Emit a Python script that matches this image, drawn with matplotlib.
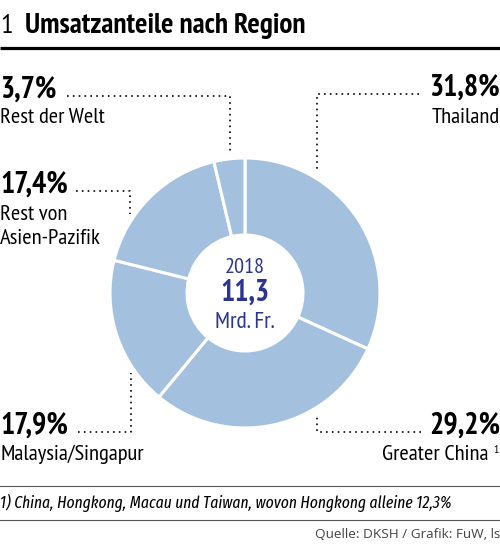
import matplotlib
matplotlib.use("Agg")
import matplotlib.pyplot as plt

# Data
regions = ["Thailand", "Greater China", "Malaysia/Singapur",
           "Rest von\nAsien-Pazifik", "Rest der Welt"]
shares = [31.8, 29.2, 17.9, 17.4, 3.7]
share_labels = ["31,8%", "29,2%", "17,9%", "17,4%", "3,7%"]
total_year = "2018"
total_value = "11,3"
total_unit = "Mrd. Fr."
footnote = "1) China, Hongkong, Macau und Taiwan, wovon Hongkong alleine 12,3%"
source = "Quelle: DKSH / Grafik: FuW, ls"

W, H = 500, 545
fig = plt.figure(figsize=(W / 100, H / 100), dpi=100)
ax = fig.add_axes([0, 0, 1, 1])

fam = ["PT Sans Narrow", "DejaVu Sans"]

def Y(py):
    return H - py

blue = "#a3c1df"
navy = "#2b3590"
cx, cy, R, r_in = 245, Y(293), 135, 58

ax.pie(shares, startangle=90, counterclock=False, colors=[blue] * len(shares),
       center=(cx, cy), radius=R,
       wedgeprops=dict(width=R - r_in, edgecolor="white", linewidth=2.2))

ax.set_xlim(0, W)
ax.set_ylim(0, H)
ax.set_aspect("auto")
ax.axis("off")

# title
ax.text(0, Y(33), "1", fontsize=20, family=fam, va="baseline")
ax.text(25, Y(33), "Umsatzanteile nach Region", fontsize=21, family=fam,
        fontweight="bold", va="baseline")
ax.plot([0, W], [Y(47.5), Y(47.5)], color="black", lw=2.3, solid_capstyle="butt")

dot = dict(color="black", lw=1.2, linestyle=(0, (1, 2.5)))
pct = dict(fontsize=21.5, family=fam, fontweight="bold", va="baseline")
lab = dict(fontsize=16.2, family=fam, va="baseline")

# Rest der Welt
ax.text(0, Y(98), share_labels[4], ha="left", **pct)
ax.text(0, Y(123), regions[4], ha="left", **lab)
ax.plot([67, 230, 230], [Y(96), Y(96), Y(153)], **dot)

# Thailand
ax.text(W, Y(96), share_labels[0], ha="right", **pct)
ax.text(W, Y(123), regions[0], ha="right", **lab)
ax.plot([419, 317, 317], [Y(94), Y(94), Y(172)], **dot)

# Rest von Asien-Pazifik
ax.text(0, Y(193), share_labels[3], ha="left", **pct)
ax.text(0, Y(220), "Rest von", ha="left", **lab)
ax.text(0, Y(244), "Asien-Pazifik", ha="left", **lab)
ax.plot([76, 130, 130], [Y(191), Y(191), Y(214)], **dot)

# Malaysia/Singapur
ax.text(0, Y(434), share_labels[2], ha="left", **pct)
ax.text(0, Y(460), regions[2], ha="left", **lab)
ax.plot([78, 131, 131], [Y(432), Y(432), Y(373)], **dot)

# Greater China
ax.text(W, Y(434), share_labels[1], ha="right", **pct)
ax.text(489, Y(460), regions[1], ha="right", **lab)
ax.text(W - 1, Y(453), "1", ha="right", fontsize=8.5, family=fam, va="baseline")
ax.plot([421, 317, 317], [Y(432), Y(432), Y(415)], **dot)

# center
ax.text(cx, Y(273), total_year, ha="center", va="baseline", fontsize=16,
        family=fam, color=navy)
ax.text(cx, Y(301), total_value, ha="center", va="baseline", fontsize=21.5,
        family=fam, color=navy, fontweight="bold")
ax.text(cx, Y(328), total_unit, ha="center", va="baseline", fontsize=17,
        family=fam, color=navy)

# footnote
ax.plot([0, W], [Y(486), Y(486)], color="#555555", lw=0.8)
ax.plot([0, W], [Y(520), Y(520)], color="#555555", lw=0.8)
ax.text(0, Y(508), footnote, fontsize=12.2,
        family=["Fira Sans Extra Condensed", "DejaVu Sans"],
        style="italic", va="baseline")
ax.text(W, Y(538), source, ha="right", va="baseline",
        fontsize=9.7, family=["Open Sans", "DejaVu Sans"], color="#444444")

fig.savefig("out.png", dpi=100)
